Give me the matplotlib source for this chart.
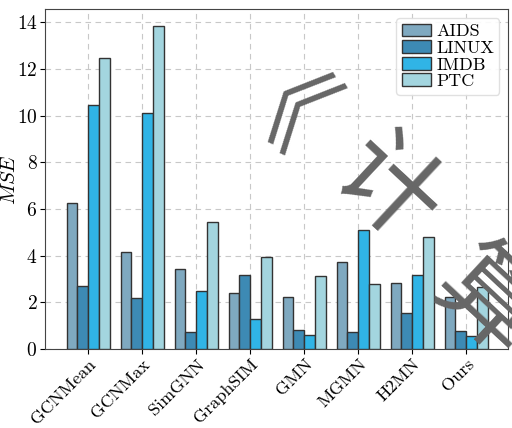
import numpy as np
import matplotlib
matplotlib.use("Agg")
import matplotlib.pyplot as plt

plt.rcParams['font.family'] = ['cmr10', 'DejaVu Serif']
plt.rcParams['mathtext.fontset'] = 'cm'
plt.rcParams['axes.formatter.use_mathtext'] = True

methods = ['GCNMean', 'GCNMax', 'SimGNN', 'GraphSIM', 'GMN', 'MGMN', 'H2MN', 'Ours']
aids = [6.25, 4.17, 3.41, 2.39, 2.23, 3.73, 2.84, 2.21]
linux = [2.70, 2.17, 0.73, 3.17, 0.80, 0.72, 1.53, 0.76]
imdb = [10.44, 10.12, 2.46, 1.27, 0.59, 5.11, 3.17, 0.54]
ptc = [12.45, 13.85, 5.43, 3.95, 3.14, 2.77, 4.81, 2.66]

series = [('AIDS', aids, '#7FA9C0'), ('LINUX', linux, '#3D8AB4'),
          ('IMDB', imdb, '#30B4E6'), ('PTC', ptc, '#A3D5DF')]

fig = plt.figure(figsize=(5.12, 4.28), dpi=100)
ax = fig.add_axes([0.088, 0.185, 0.905, 0.793])

x = np.arange(len(methods))
w = 0.2
for i, (name, vals, col) in enumerate(series):
    ax.bar(x + (i - 1.5) * w, vals, w, color=col, edgecolor='#333333',
           linewidth=1.0, label=name, zorder=3)

ax.set_xlim(-0.8, 7.78)
ax.set_ylim(0, 14.55)
ax.set_yticks(range(0, 15, 2))
ax.set_xticks(x)
ax.set_xticklabels(methods, rotation=45, ha='right', rotation_mode='anchor', fontsize=13)
ax.tick_params(axis='y', labelsize=14, pad=2)
ax.tick_params(axis='x', pad=2)
ax.set_ylabel('$MSE$', fontsize=15)
ax.yaxis.set_label_coords(-0.056, 0.5)
ax.grid(True, linestyle=(0, (5, 4)), color='#c8c8c8', linewidth=0.8, zorder=0)
for s in ax.spines.values():
    s.set_color('#444444')

ax.legend(loc='upper right', fontsize=13, handlelength=1.6, handleheight=0.7,
          labelspacing=0.05, borderpad=0.3, handletextpad=0.3,
          framealpha=0.9, edgecolor='#dddddd', fancybox=True)

# watermark, one glyph at a time along a diagonal
wm_chars = ['《', '计', '算']
wm_pos = [(0.506, 0.69), (0.752, 0.552), (0.95, 0.29)]
for ch, (px, py) in zip(wm_chars, wm_pos):
    fig.text(px, py, ch, fontsize=74, color='#666666',
             rotation=-43, ha='center', va='center', rotation_mode='anchor',
             family=['Noto Sans CJK SC'], zorder=10)

fig.savefig('out.png', dpi=100)
